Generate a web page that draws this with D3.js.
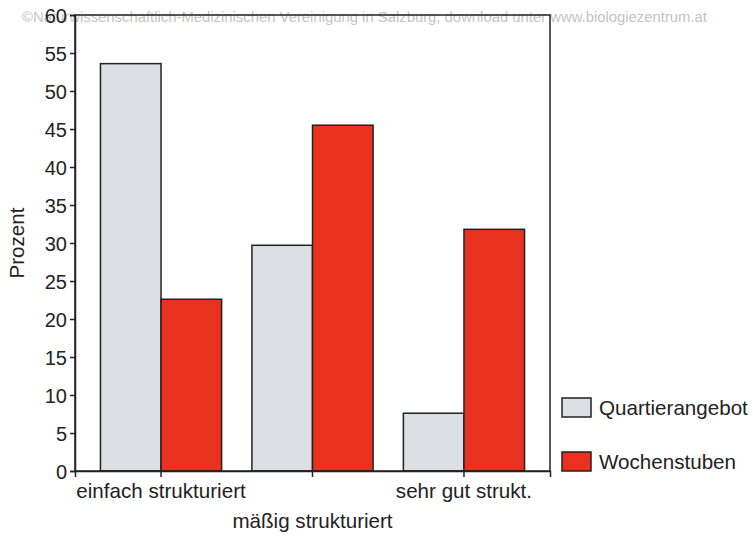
<!DOCTYPE html>
<html><head><meta charset="utf-8">
<script src="https://cdn.jsdelivr.net/npm/d3@7"></script>
<style>body{margin:0;background:#fff}svg{display:block}text{font-family:"Liberation Sans",Arial,sans-serif}</style>
</head><body>
<script>
const categories = ["einfach strukturiert","mäßig strukturiert","sehr gut strukt."];
const seriesNames = ["Quartierangebot","Wochenstuben"];
const quartierangebot = [53.6, 29.7, 7.6];
const wochenstuben = [22.6, 45.5, 31.8];
const yTicks = [0,5,10,15,20,25,30,35,40,45,50,55,60];
const colors = ["#dcdfe3","#e8321f"];
const watermark = "©Naturwissenschaftlich-Medizinischen Vereinigung in Salzburg; download unter www.biologiezentrum.at";

const W=753,H=536;
const svg=d3.select("body").append("svg").attr("width",W).attr("height",H);
const L=75,R=550,T=15,B=471;
const y=d3.scaleLinear().domain([0,60]).range([B,T]);
const x=d3.scaleBand().domain(categories).range([L,R]).paddingInner(0.2).paddingOuter(0.168);
const xs=d3.scaleBand().domain(seriesNames).range([0,x.bandwidth()]);

svg.append("text").attr("x",22).attr("y",22).attr("textLength",685).attr("lengthAdjust","spacingAndGlyphs")
  .attr("font-size",14).attr("fill","#c4c4c4").text(watermark);

const data=categories.map((c,i)=>({c,vals:[quartierangebot[i],wochenstuben[i]]}));
const g=svg.append("g");
data.forEach(d=>{
  d.vals.forEach((v,j)=>{
    g.append("rect").attr("x",x(d.c)+xs(seriesNames[j])).attr("y",y(v))
     .attr("width",xs.bandwidth()).attr("height",y(0)-y(v))
     .attr("fill",colors[j]).attr("stroke","#222").attr("stroke-width",1.5);
  });
});

// frame
svg.append("rect").attr("x",L).attr("y",T).attr("width",R-L).attr("height",B-T)
  .attr("fill","none").attr("stroke","#222").attr("stroke-width",1.5);

// y axis
const ya=svg.append("g").attr("transform",`translate(${L},0)`)
  .call(d3.axisLeft(y).tickValues(yTicks).tickSize(5).tickPadding(3));
ya.select(".domain").attr("stroke","#222").attr("stroke-width",1.5);
ya.selectAll(".tick line").attr("stroke","#222").attr("stroke-width",1.5);
ya.selectAll("text").attr("font-size",20).attr("fill","#222").attr("font-family","Liberation Sans, Arial, sans-serif").attr("dy","0.36em");

// x axis ticks
const xa=svg.append("g").attr("transform",`translate(0,${B})`)
  .call(d3.axisBottom(x).tickSize(6).tickFormat(""));
xa.select(".domain").attr("stroke","#222").attr("stroke-width",1.5);
xa.selectAll(".tick line").attr("stroke","#222").attr("stroke-width",1.5);
// x labels (staggered)
categories.forEach((c,i)=>{
  svg.append("text").attr("x",x(c)+x.bandwidth()/2).attr("y",i===1?528:498)
   .attr("text-anchor","middle").attr("font-size",20.6).attr("fill","#222").text(c);
});

// y title
svg.append("text").attr("transform","translate(24,243) rotate(-90)").attr("text-anchor","middle")
  .attr("font-size",20.6).attr("fill","#222").text("Prozent");

// legend
seriesNames.forEach((s,i)=>{
  const yy=398+i*54;
  svg.append("rect").attr("x",562).attr("y",yy).attr("width",29).attr("height",19)
    .attr("fill",colors[i]).attr("stroke","#222").attr("stroke-width",1.5);
  svg.append("text").attr("x",599).attr("y",yy+17).attr("font-size",20.6).attr("fill","#222").text(s);
});
</script>
</body></html>
